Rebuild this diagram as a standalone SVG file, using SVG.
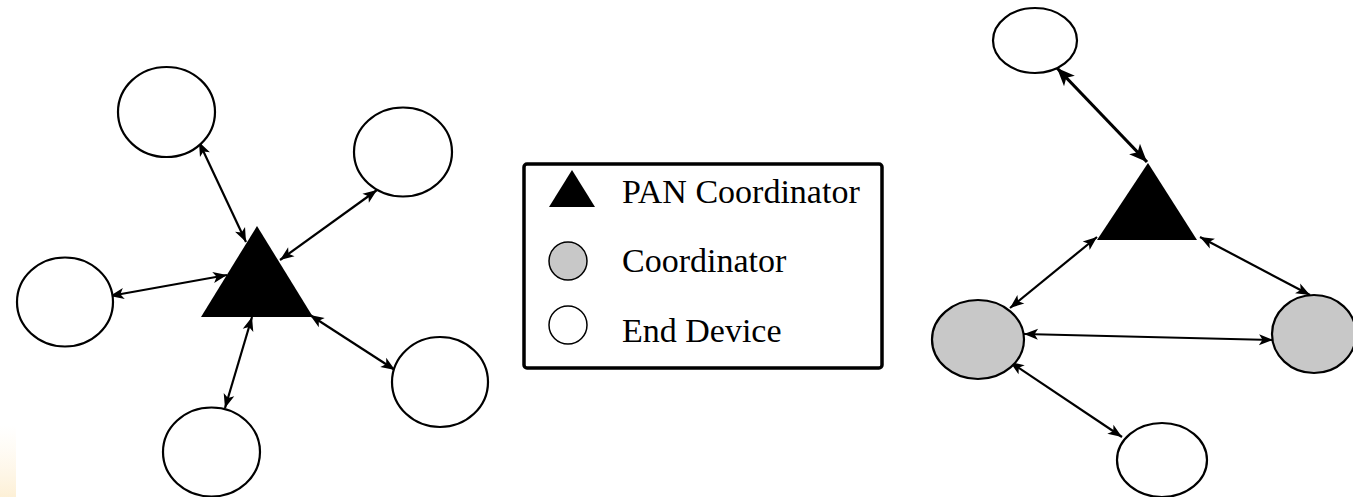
<svg xmlns="http://www.w3.org/2000/svg" width="1353" height="497" viewBox="0 0 1353 497">
  <defs>
    <marker id="arrow" viewBox="-1 -7 16 14" refX="14" refY="0" markerWidth="16" markerHeight="14" markerUnits="userSpaceOnUse" orient="auto-start-reverse">
      <path d="M0,-5.5 L14,0 L0,5.5 L3.5,0 z" fill="#000"/>
    </marker>
    <marker id="arrow-lg" viewBox="-1 -9 20 18" refX="18" refY="0" markerWidth="20" markerHeight="18" markerUnits="userSpaceOnUse" orient="auto-start-reverse">
      <path d="M0,-7.5 L18,0 L0,7.5 L4.5,0 z" fill="#000"/>
    </marker>
    <linearGradient id="edge-tint" x1="0" y1="0" x2="0" y2="1">
      <stop offset="0" stop-color="#fff6e6" stop-opacity="0"/>
      <stop offset="1" stop-color="#fdf0d6"/>
    </linearGradient>
    <style>
      .dev { fill: #fff; stroke: #000; stroke-width: 2.2; }
      .coord { fill: #c8c8c8; stroke: #000; stroke-width: 2.2; }
      .pan { fill: #000; }
      .link { stroke: #000; stroke-width: 2.2; fill: none; marker-start: url(#arrow); marker-end: url(#arrow); }
      .link-thick { stroke: #000; stroke-width: 3.2; fill: none; marker-start: url(#arrow-lg); marker-end: url(#arrow-lg); }
      .label { font-family: "Liberation Serif", "Times New Roman", serif; font-size: 34px; fill: #000; }
    </style>
  </defs>

  <rect width="1353" height="497" fill="#fff"/>
  <rect x="0" y="425" width="16" height="72" fill="url(#edge-tint)"/>

  <!-- Star topology -->
  <g id="star-links">
    <line class="link" x1="199" y1="142" x2="246" y2="242"/>
    <line class="link" x1="377" y1="190" x2="280" y2="260"/>
    <line class="link" x1="110" y1="296" x2="227" y2="275"/>
    <line class="link" x1="252" y1="317" x2="225" y2="408"/>
    <line class="link" x1="310" y1="315" x2="395" y2="370"/>
  </g>
  <g id="star-pan"><polygon class="pan" points="257,226 201,317 313,317"/></g>
  <g id="star-dev-top"><ellipse class="dev" cx="166.5" cy="112" rx="48.5" ry="45"/></g>
  <g id="star-dev-upper-right"><ellipse class="dev" cx="403" cy="152" rx="49" ry="44.5"/></g>
  <g id="star-dev-left"><ellipse class="dev" cx="65" cy="302" rx="48" ry="44.5"/></g>
  <g id="star-dev-lower-right"><ellipse class="dev" cx="440" cy="382" rx="48" ry="45"/></g>
  <g id="star-dev-bottom"><ellipse class="dev" cx="211.5" cy="452" rx="48.5" ry="44.5"/></g>

  <!-- Legend -->
  <g id="legend">
    <rect x="524" y="164" width="358" height="204" rx="3" fill="#fff" stroke="#000" stroke-width="3.5"/>
    <polygon class="pan" points="572,170 549,207 595,207"/>
    <text class="label" x="622" y="203">PAN Coordinator</text>
    <circle cx="568" cy="261" r="19" fill="#c8c8c8" stroke="#000" stroke-width="1.5"/>
    <text class="label" x="622" y="272">Coordinator</text>
    <circle cx="568" cy="325" r="19" fill="#fff" stroke="#000" stroke-width="1.5"/>
    <text class="label" x="622" y="342">End Device</text>
  </g>

  <!-- Cluster topology -->
  <g id="mesh-links">
    <line class="link-thick" x1="1057" y1="68" x2="1147" y2="162"/>
    <line class="link" x1="1097" y1="237" x2="1010" y2="308"/>
    <line class="link" x1="1200" y1="237" x2="1310" y2="295"/>
    <line class="link" x1="1024" y1="334" x2="1273" y2="340"/>
    <line class="link" x1="1010" y1="362" x2="1122" y2="437"/>
  </g>
  <g id="mesh-pan"><polygon class="pan" points="1148,163 1097,240 1197,240"/></g>
  <g id="mesh-dev-top"><ellipse class="dev" cx="1035" cy="40.5" rx="42" ry="32.5"/></g>
  <g id="mesh-coord-left"><ellipse class="coord" cx="978" cy="339.5" rx="46" ry="39.5"/></g>
  <g id="mesh-coord-right"><ellipse class="coord" cx="1314" cy="334" rx="42" ry="39"/></g>
  <g id="mesh-dev-bottom"><ellipse class="dev" cx="1162" cy="460" rx="45" ry="37"/></g>
</svg>
